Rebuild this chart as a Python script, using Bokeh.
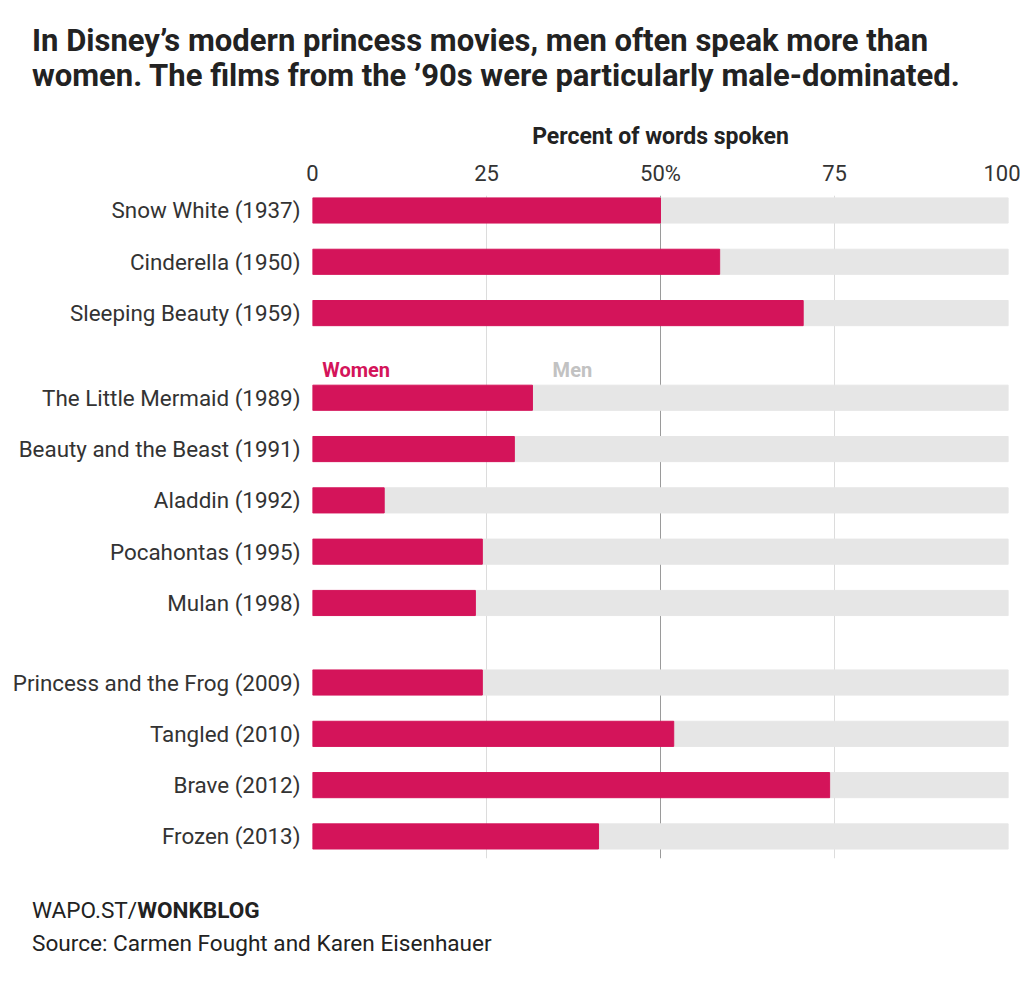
from bokeh.plotting import figure
from bokeh.models import Range1d, FixedTicker, Span, Label, ColumnDataSource, Div
from bokeh.layouts import column
from bokeh.embed import file_html
from bokeh.resources import INLINE

movies = ["Snow White (1937)", "Cinderella (1950)", "Sleeping Beauty (1959)",
          "The Little Mermaid (1989)", "Beauty and the Beast (1991)", "Aladdin (1992)",
          "Pocahontas (1995)", "Mulan (1998)",
          "Princess and the Frog (2009)", "Tangled (2010)", "Brave (2012)", "Frozen (2013)"]
women_pct = [50, 58.5, 70.5, 31.6, 29, 10.3, 24.4, 23.4, 24.4, 51.9, 74.3, 41.1]
group = [0, 0, 0, 1, 1, 1, 1, 1, 2, 2, 2, 2]
x_ticks = [0, 25, 50, 75, 100]

TITLE1 = "In Disney\u2019s modern princess movies, men often speak more than"
TITLE2 = "women. The films from the \u201990s were particularly male-dominated."
CREDIT_A = "WAPO.ST/"
CREDIT_B = "WONKBLOG"
SOURCE = "Source: Carmen Fought and Karen Eisenhauer"
FONT = "Roboto"
WOMEN_C = "#d4145a"
MEN_C = "#e6e6e6"
INK = "#222222"

W = 1020
HEAD_H, MAIN_H, FOOT_H = 112, 758, 110

# ---------- header (title) ----------
head = Div(text=f"{TITLE1}<br>{TITLE2}", width=W, height=HEAD_H, margin=(0, 0, 0, 0),
           styles={"font-family": FONT, "font-size": "31px", "font-weight": "bold",
                   "color": INK, "line-height": "35px", "padding-left": "32px",
                   "padding-top": "23px", "white-space": "nowrap", "box-sizing": "border-box"})

# ---------- main chart ----------
ROW = 10
GAPS = [0, 6.5, 12]
pos = [i * ROW + GAPS[g] for i, g in enumerate(group)]
src = ColumnDataSource(dict(y=pos, women=women_pct, total=[100] * len(pos)))

p = figure(width=W, height=MAIN_H, output_backend="svg", toolbar_location=None,
           x_range=Range1d(0, 100), y_range=Range1d(126.3, -2.92),
           x_axis_location="above", min_border_left=312, min_border_right=12,
           min_border_top=83, min_border_bottom=12, margin=(0, 0, 0, 0))
p.outline_line_color = None
p.background_fill_color = "white"
p.border_fill_color = "white"

p.hbar(y="y", left="women", right="total", height=4.9, color=MEN_C, source=src)
p.hbar(y="y", left=0, right="women", height=4.9, color=WOMEN_C, source=src)

p.xgrid.ticker = FixedTicker(ticks=[t for t in x_ticks if t != 50])
p.xgrid.grid_line_color = "#dcdcdc"
p.xgrid.grid_line_width = 1
p.ygrid.grid_line_color = None
p.add_layout(Span(location=50, dimension="height", line_color="#9a9a9a", line_width=1, level="underlay"))

xa = p.xaxis[0]
xa.ticker = FixedTicker(ticks=x_ticks)
xa.major_label_overrides = {50: "50%"}
xa.axis_line_color = None
xa.major_tick_line_color = None
xa.minor_tick_line_color = None
xa.major_label_text_font = FONT
xa.major_label_text_font_size = "22px"
xa.major_label_text_color = "#333333"
xa.major_label_standoff = 4
xa.axis_label = "Percent of words spoken"
xa.axis_label_text_font = FONT
xa.axis_label_text_font_size = "23px"
xa.axis_label_text_font_style = "bold"
xa.axis_label_text_color = INK
xa.axis_label_standoff = 8

ya = p.yaxis[0]
ya.ticker = FixedTicker(ticks=pos)
ya.major_label_overrides = {pp: m for pp, m in zip(pos, movies)}
ya.axis_line_color = None
ya.major_tick_line_color = None
ya.minor_tick_line_color = None
ya.major_label_text_font = FONT
ya.major_label_text_font_size = "22.4px"
ya.major_label_text_color = "#333333"
ya.major_label_standoff = 6

p.add_layout(Label(x=1.4, y=pos[3] - 5.5, text="Women", text_font=FONT, text_font_size="20px",
                   text_font_style="bold", text_color=WOMEN_C, text_baseline="middle"))
p.add_layout(Label(x=34.5, y=pos[3] - 5.5, text="Men", text_font=FONT, text_font_size="20px",
                   text_font_style="bold", text_color="#c2c2c2", text_baseline="middle"))

# ---------- footer ----------
foot = Div(text=f"{CREDIT_A}<b>{CREDIT_B}</b><br>{SOURCE}", width=W, height=FOOT_H,
           margin=(0, 0, 0, 0),
           styles={"font-family": FONT, "font-size": "22.6px", "color": INK,
                   "line-height": "33px", "padding-left": "32px", "padding-top": "24px",
                   "white-space": "nowrap", "box-sizing": "border-box"})

layout = column(head, p, foot, spacing=0)
open("out.html", "w").write(file_html(layout, INLINE))
